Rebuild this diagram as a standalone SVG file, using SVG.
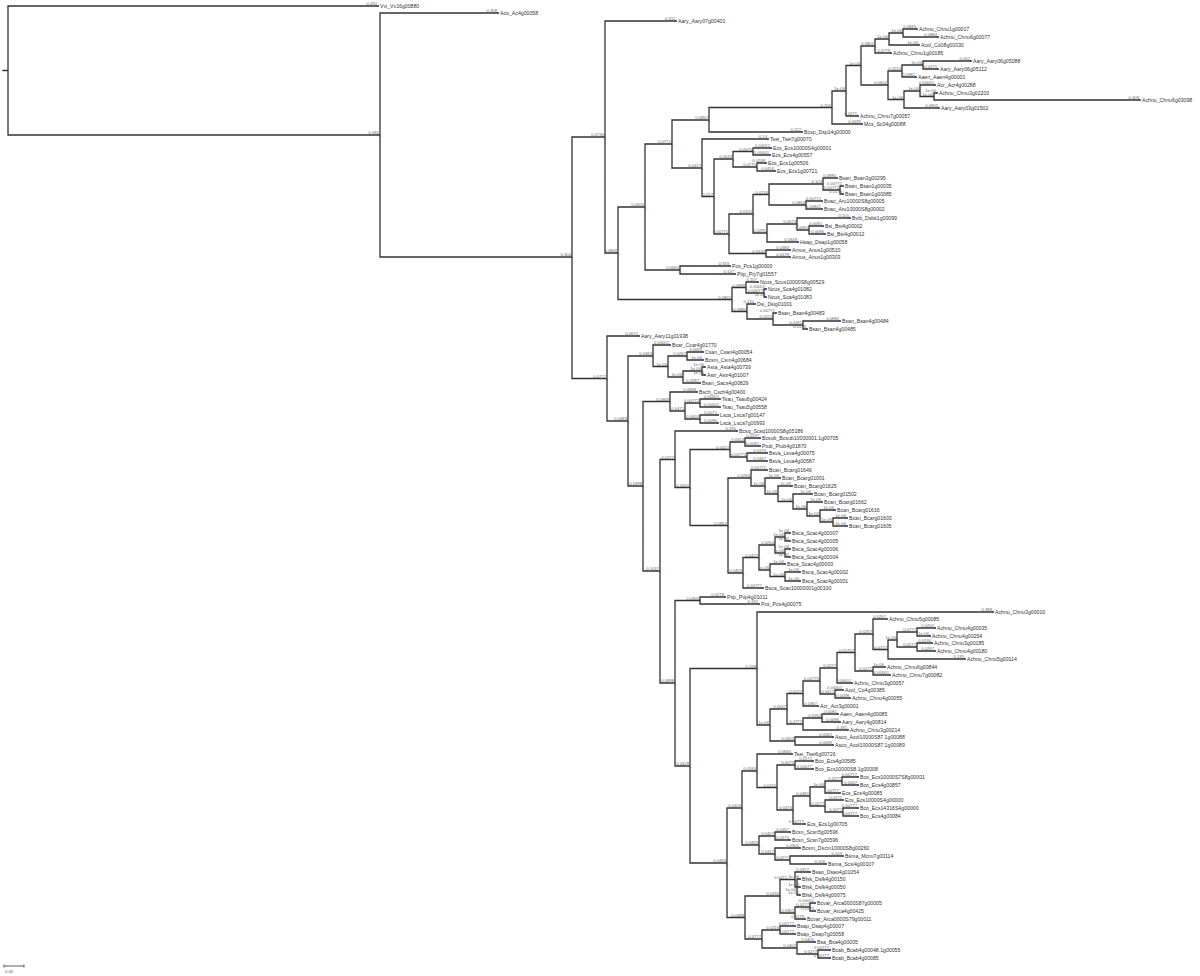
<svg xmlns="http://www.w3.org/2000/svg" width="1200" height="976" viewBox="0 0 1200 976">
<style>
.br{fill:none;stroke:#333;stroke-width:1.3;stroke-linecap:square}
.nd{fill:none;stroke:#d43a2a;stroke-width:1.4;stroke-linecap:round}
.tp{fill:none;stroke:#2a36c8;stroke-width:1.6;stroke-linecap:square}
.lf{font-family:"Liberation Sans",Arial,sans-serif;font-size:5.2px;fill:#333}
.bl{font-family:"Liberation Sans",Arial,sans-serif;font-size:4.2px;fill:#666;text-anchor:end}
</style>
<rect width="1200" height="976" fill="#fff"/>
<g id="connectors">
<path class="br" d="M3 70.5H8 M8 6V135 M8 6H378 M8 135H380
M380 13V257 M380 13H498 M380 257H572
M572 137V378.5 M572 137H605 M572 378.5H607
M605 21V253 M605 21H676 M605 253H618
M618 207V299.5 M618 207H645 M618 299.5H732
M645 144V270 M645 144H672 M645 270H680
M680 266V274 M680 266H730 M680 274H735
M672 120V168 M672 120H709 M672 168H702
M709 107.5V132 M709 107.5H832 M709 132H802
M832 91V124 M832 91H846 M832 124H862
M846 65.5V116 M846 65.5H861 M846 116H858
M861 46V85 M861 46H875 M861 85H888
M875 39V53 M875 39H889 M875 53H891
M889 33V45 M889 33H903 M889 45H919
M903 29V37 M903 29H917 M903 37H938
M888 71V99.5 M888 71H902 M888 99.5H904
M902 65V77 M902 65H923 M902 77H916
M923 61V69 M923 61H971 M923 69H938
M904 91V108 M904 91H920 M904 108H939
M920 85V96.5 M920 85H935 M920 96.5H934
M934 93V100 M934 93H937 M934 100H1140
M702 139V196.5 M702 139H768 M702 196.5H714
M714 159V234 M714 159H733 M714 234H729
M733 151.5V167 M733 151.5H753 M733 167H757
M753 148V155 M753 148H771 M753 155H770
M757 163V171 M757 163H766 M757 171H775
M729 214V253.5 M729 214H753 M729 253.5H766
M753 194.5V233 M753 194.5H769 M753 233H767
M769 184V205 M769 184H823 M769 205H806
M823 178V190 M823 178H837 M823 190H840
M840 186V194 M840 186H843 M840 194H843
M806 201V209 M806 201H822 M806 209H822
M767 224V242 M767 224H797 M767 242H798
M797 218V230 M797 218H850 M797 230H809
M809 226V234 M809 226H823 M809 234H825
M766 250V257 M766 250H790 M766 257H790
M732 287.5V311.5 M732 287.5H746 M732 311.5H747
M746 282V293 M746 282H758 M746 293H764
M764 289V297 M764 289H766 M764 297H766
M747 304V319 M747 304H755 M747 319H773
M773 313V325 M773 313H776 M773 325H803
M803 321V329 M803 321H840 M803 329H807
M607 336V421 M607 336H639 M607 421H628
M628 356V486 M628 356H653 M628 486H643
M653 345V366.5 M653 345H670 M653 366.5H668
M668 356V377 M668 356H687 M668 377H683
M687 352V360 M687 352H703 M687 360H703
M683 371V383 M683 371H702 M683 383H700
M702 367V375 M702 367H705 M702 375H705
M643 401.5V571 M643 401.5H670 M643 571H660
M670 392V411 M670 392H697 M670 411H685
M685 403V419 M685 403H700 M685 419H700
M700 399V407 M700 399H720 M700 407H720
M700 415V423 M700 415H718 M700 423H718
M660 459.5V683 M660 459.5H675 M660 683H675
M675 431V487.5 M675 431H737 M675 487.5H690
M690 449.5V525.5 M690 449.5H730 M690 525.5H728
M730 442V457 M730 442H745 M730 457H747
M745 438V446 M745 438H760 M745 446H760
M747 453V461 M747 453H767 M747 461H767
M728 478V573 M728 478H751 M728 573H743
M751 470V486 M751 470H767 M751 486H765
M765 478V494 M765 478H780 M765 494H778
M778 486V501.5 M778 486H792 M778 501.5H793
M793 494V509 M793 494H812 M793 509H807
M807 502V516 M807 502H822 M807 516H820
M820 510V522 M820 510H835 M820 522H833
M833 518V526 M833 518H847 M833 526H847
M743 557.5V588 M743 557.5H759 M743 588H763
M759 545V570 M759 545H775 M759 570H770
M775 537V553 M775 537H785 M775 553H785
M785 533V541 M785 533H790 M785 541H790
M785 549V557 M785 549H790 M785 557H790
M770 564V576.5 M770 564H785 M770 576.5H785
M785 572V581 M785 572H800 M785 581H800
M675 600.5V766 M675 600.5H700 M675 766H690
M700 597V604 M700 597H725 M700 604H759
M690 668.5V863 M690 668.5H757 M690 863H727
M757 612V725 M757 612H993 M757 725H770
M770 709V741 M770 709H787 M770 741H795
M795 737V745 M795 737H833 M795 745H833
M787 693.5V724 M787 693.5H803 M787 724H803
M803 681V706 M803 681H820 M803 706H818
M820 668V694 M820 668H837 M820 694H835
M835 690V698 M835 690H843 M835 698H850
M837 652.5V683 M837 652.5H855 M837 683H852
M855 634V671 M855 634H873 M855 671H873
M873 619V649.5 M873 619H887 M873 649.5H888
M888 640V659 M888 640H897 M888 659H965
M897 632V647 M897 632H917 M897 647H917
M917 628V636 M917 628H935 M917 636H930
M917 643V651 M917 643H932 M917 651H935
M873 667V675 M873 667H885 M873 675H890
M803 718V730 M803 718H822 M803 730H848
M822 714V722 M822 714H838 M822 722H840
M727 808V917.5 M727 808H742 M727 917.5H745
M742 771V845 M742 771H757 M742 845H759
M757 754V787.5 M757 754H792 M757 787.5H777
M777 765V810 M777 765H795 M777 810H793
M795 761V769 M795 761H813 M795 769H813
M793 796V824 M793 796H810 M793 824H805
M810 787V806 M810 787H825 M810 806H825
M825 781V793 M825 781H842 M825 793H840
M842 777V785 M842 777H858 M842 785H858
M825 800V812 M825 800H843 M825 812H843
M843 808V816 M843 808H858 M843 816H858
M759 836V854 M759 836H775 M759 854H775
M775 832V840 M775 832H790 M775 840H790
M775 848V860 M775 848H800 M775 860H790
M790 856V864 M790 856H843 M790 864H826
M745 896V939 M745 896H780 M745 939H762
M780 879.5V913 M780 879.5H795 M780 913H795
M795 872V887 M795 872H810 M795 887H797
M797 879V895 M797 879H800 M797 887H800 M797 895H800
M795 907V919 M795 907H810 M795 919H805
M810 903V911 M810 903H815 M810 911H815
M762 930V948 M762 930H780 M762 948H797
M780 926V934 M780 926H795 M780 934H795
M797 942V954 M797 942H815 M797 954H818
M818 950V958 M818 950H830 M818 958H830"/>
<path class="nd" d="M380.5 136.5h.01M572.5 258.5h.01M605.5 138.5h.01M618.5 254.5h.01M645.5 208.5h.01M680.5 271.5h.01M672.5 145.5h.01M709.5 121.5h.01M832.5 109h.01M846.5 92.5h.01M861.5 67h.01M875.5 47.5h.01M889.5 40.5h.01M903.5 34.5h.01M888.5 86.5h.01M902.5 72.5h.01M923.5 66.5h.01M904.5 101h.01M920.5 92.5h.01M934.5 98h.01M702.5 169.5h.01M714.5 198h.01M733.5 160.5h.01M753.5 153h.01M757.5 168.5h.01M729.5 235.5h.01M753.5 215.5h.01M769.5 196h.01M823.5 185.5h.01M840.5 191.5h.01M806.5 206.5h.01M767.5 234.5h.01M797.5 225.5h.01M809.5 231.5h.01M766.5 255h.01M732.5 301h.01M746.5 289h.01M764.5 294.5h.01M747.5 313h.01M773.5 320.5h.01M803.5 326.5h.01M607.5 380h.01M628.5 422.5h.01M653.5 357.5h.01M668.5 368h.01M687.5 357.5h.01M683.5 378.5h.01M702.5 372.5h.01M643.5 487.5h.01M670.5 403h.01M685.5 412.5h.01M700.5 404.5h.01M700.5 420.5h.01M660.5 572.5h.01M675.5 461h.01M690.5 489h.01M730.5 451h.01M745.5 443.5h.01M747.5 458.5h.01M728.5 527h.01M751.5 479.5h.01M765.5 487.5h.01M778.5 495.5h.01M793.5 503h.01M807.5 510.5h.01M820.5 517.5h.01M833.5 523.5h.01M743.5 574.5h.01M759.5 559h.01M775.5 546.5h.01M785.5 538.5h.01M785.5 554.5h.01M770.5 571.5h.01M785.5 578h.01M675.5 684.5h.01M700.5 602h.01M690.5 767.5h.01M757.5 670h.01M770.5 726.5h.01M795.5 742.5h.01M787.5 710.5h.01M803.5 695h.01M820.5 682.5h.01M835.5 695.5h.01M837.5 669.5h.01M855.5 654h.01M873.5 635.5h.01M888.5 651h.01M897.5 641.5h.01M917.5 633.5h.01M917.5 648.5h.01M873.5 672.5h.01M803.5 725.5h.01M822.5 719.5h.01M727.5 864.5h.01M742.5 809.5h.01M757.5 772.5h.01M777.5 789h.01M795.5 766.5h.01M793.5 811.5h.01M810.5 797.5h.01M825.5 788.5h.01M842.5 782.5h.01M825.5 807.5h.01M843.5 813.5h.01M759.5 846.5h.01M775.5 837.5h.01M775.5 855.5h.01M790.5 861.5h.01M745.5 919h.01M780.5 897.5h.01M795.5 881h.01M797.5 888.5h.01M795.5 914.5h.01M810.5 908.5h.01M762.5 940.5h.01M780.5 931.5h.01M797.5 949.5h.01M818.5 955.5h.01"/>
<path class="tp" d="M378 6h.01M498 13h.01M676 21h.01M917 29h.01M938 37h.01M919 45h.01M891 53h.01M971 61h.01M938 69h.01M916 77h.01M935 85h.01M937 93h.01M1140 100h.01M939 108h.01M858 116h.01M862 124h.01M802 132h.01M768 139h.01M771 148h.01M770 155h.01M766 163h.01M775 171h.01M837 178h.01M843 186h.01M843 194h.01M822 201h.01M822 209h.01M850 218h.01M823 226h.01M825 234h.01M798 242h.01M790 250h.01M790 257h.01M730 266h.01M735 274h.01M758 282h.01M766 289h.01M766 297h.01M755 304h.01M776 313h.01M840 321h.01M807 329h.01M639 336h.01M670 345h.01M703 352h.01M703 360h.01M705 367h.01M705 375h.01M700 383h.01M697 392h.01M720 399h.01M720 407h.01M718 415h.01M718 423h.01M737 431h.01M760 438h.01M760 446h.01M767 453h.01M767 461h.01M767 470h.01M780 478h.01M792 486h.01M812 494h.01M822 502h.01M835 510h.01M847 518h.01M847 526h.01M790 533h.01M790 541h.01M790 549h.01M790 557h.01M785 564h.01M800 572h.01M800 581h.01M763 588h.01M725 597h.01M759 604h.01M993 612h.01M887 619h.01M935 628h.01M930 636h.01M932 643h.01M935 651h.01M965 659h.01M885 667h.01M890 675h.01M852 683h.01M843 690h.01M850 698h.01M818 706h.01M838 714h.01M840 722h.01M848 730h.01M833 737h.01M833 745h.01M792 754h.01M813 761h.01M813 769h.01M858 777h.01M858 785h.01M840 793h.01M843 800h.01M858 808h.01M858 816h.01M805 824h.01M790 832h.01M790 840h.01M800 848h.01M843 856h.01M826 864h.01M810 872h.01M800 879h.01M800 887h.01M800 895h.01M815 903h.01M815 911h.01M805 919h.01M795 926h.01M795 934h.01M815 942h.01M830 950h.01M830 958h.01"/>
</g>
<g id="internal-labels">
<text class="bl" x="379" y="134">0.580</text><text class="bl" x="571" y="256">0.304</text><text class="bl" x="604" y="136">0.0736</text><text class="bl" x="617" y="252">0.0866</text><text class="bl" x="644" y="206">0.0600</text><text class="bl" x="679" y="269">0.0665</text><text class="bl" x="671" y="143">0.0771</text><text class="bl" x="708" y="119">0.0867</text><text class="bl" x="831" y="106.5">0.205</text><text class="bl" x="845" y="90">1e-06</text><text class="bl" x="860" y="64.5">1e-06</text><text class="bl" x="874" y="45">0.0801</text><text class="bl" x="888" y="38">1e-06</text><text class="bl" x="902" y="32">1e-06</text><text class="bl" x="887" y="84">0.0602</text><text class="bl" x="901" y="70">0.0214</text><text class="bl" x="922" y="64">1e-06</text><text class="bl" x="903" y="98.5">1e-06</text><text class="bl" x="919" y="90">1e-06</text><text class="bl" x="933" y="95.5">1e-06</text><text class="bl" x="701" y="167">0.0417</text><text class="bl" x="713" y="195.5">0.217</text><text class="bl" x="732" y="158">0.0543</text><text class="bl" x="752" y="150.5">0.0675</text><text class="bl" x="756" y="166">0.0775</text><text class="bl" x="728" y="233">0.00771</text><text class="bl" x="752" y="213">0.0311</text><text class="bl" x="768" y="193.5">0.0234</text><text class="bl" x="822" y="183">0.103</text><text class="bl" x="839" y="189">0.00771</text><text class="bl" x="805" y="204">0.0864</text><text class="bl" x="766" y="232">0.0291</text><text class="bl" x="796" y="223">0.0673</text><text class="bl" x="808" y="229">0.0081</text><text class="bl" x="765" y="252.5">0.0540</text><text class="bl" x="731" y="298.5">0.0801</text><text class="bl" x="745" y="286.5">0.0898</text><text class="bl" x="763" y="292">0.00077</text><text class="bl" x="746" y="310.5">0.0880</text><text class="bl" x="772" y="318">0.0311</text><text class="bl" x="802" y="324">0.0181</text>
<text class="bl" x="606" y="377.5">0.0777</text><text class="bl" x="627" y="420">0.0483</text><text class="bl" x="652" y="355">0.0363</text><text class="bl" x="667" y="365.5">1e-06</text><text class="bl" x="686" y="355">0.0267</text><text class="bl" x="682" y="376">1e-06</text><text class="bl" x="701" y="370">1e-06</text><text class="bl" x="642" y="485">0.0398</text><text class="bl" x="669" y="400.5">0.0369</text><text class="bl" x="684" y="410">0.0471</text><text class="bl" x="699" y="402">0.00771</text><text class="bl" x="699" y="418">0.0403</text><text class="bl" x="659" y="570">0.1037</text><text class="bl" x="674" y="458.5">0.0277</text><text class="bl" x="689" y="486.5">0.0551</text><text class="bl" x="729" y="448.5">0.0427</text><text class="bl" x="744" y="441">0.0314</text><text class="bl" x="746" y="456">0.00773</text><text class="bl" x="727" y="524.5">0.0852</text><text class="bl" x="750" y="477">0.0266</text><text class="bl" x="764" y="485">1e-06</text><text class="bl" x="777" y="493">1e-06</text><text class="bl" x="792" y="500.5">1e-06</text><text class="bl" x="806" y="508">1e-06</text><text class="bl" x="819" y="515">1e-06</text><text class="bl" x="832" y="521">1e-06</text><text class="bl" x="742" y="572">0.0405</text><text class="bl" x="758" y="556.5">0.0427</text><text class="bl" x="774" y="544">0.0264</text><text class="bl" x="784" y="536">1e-06</text><text class="bl" x="784" y="552">1e-06</text><text class="bl" x="769" y="569">1e-06</text><text class="bl" x="784" y="575.5">1e-06</text><text class="bl" x="674" y="682">0.0898</text><text class="bl" x="699" y="599.5">0.0305</text><text class="bl" x="689" y="765">0.0428</text><text class="bl" x="756" y="667.5">0.158</text><text class="bl" x="769" y="724">1e-06</text><text class="bl" x="794" y="740">0.0403</text><text class="bl" x="786" y="708">0.0547</text><text class="bl" x="802" y="692.5">0.0277</text><text class="bl" x="819" y="680">0.00775</text><text class="bl" x="834" y="693">0.0417</text><text class="bl" x="836" y="667">0.0227</text><text class="bl" x="854" y="651.5">0.00757</text><text class="bl" x="872" y="633">0.0257</text><text class="bl" x="887" y="648.5">0.0777</text><text class="bl" x="896" y="639">1e-06</text><text class="bl" x="916" y="631">0.0777</text><text class="bl" x="916" y="646">0.0277</text><text class="bl" x="872" y="670">0.0277</text><text class="bl" x="802" y="723">0.0777</text><text class="bl" x="821" y="717">0.0264</text><text class="bl" x="726" y="862">0.0494</text><text class="bl" x="741" y="807">0.0426</text><text class="bl" x="756" y="770">0.0340</text><text class="bl" x="776" y="786.5">0.0411</text><text class="bl" x="794" y="764">0.0075</text><text class="bl" x="792" y="809">0.0475</text><text class="bl" x="809" y="795">0.0481</text><text class="bl" x="824" y="786">1e-06</text><text class="bl" x="841" y="780">0.0277</text><text class="bl" x="824" y="805">0.0277</text><text class="bl" x="842" y="811">0.0277</text><text class="bl" x="758" y="844">0.0405</text><text class="bl" x="774" y="835">0.0407</text><text class="bl" x="774" y="853">0.0417</text><text class="bl" x="789" y="859">0.0277</text><text class="bl" x="744" y="916.5">0.0488</text><text class="bl" x="779" y="895">0.0436</text><text class="bl" x="787" y="878.5">0.0471</text><text class="bl" x="796" y="890.6">1e-06</text><text class="bl" x="794" y="912">0.0361</text><text class="bl" x="809" y="906">0.0277</text><text class="bl" x="761" y="938">0.0777</text><text class="bl" x="779" y="929">0.0216</text><text class="bl" x="796" y="947">0.0402</text><text class="bl" x="817" y="953">0.0277</text>
</g>
<g id="leaves">
<g id="leaf1"><text class="bl" x="377" y="5">0.492</text><text class="lf" x="380" y="7.8">Vvi_Vv16g00880</text></g>
<g id="leaf2"><text class="bl" x="497" y="12">0.308</text><text class="lf" x="500" y="14.8">Aco_Ac4g00058</text></g>
<g id="leaf3"><text class="bl" x="675" y="20">0.311</text><text class="lf" x="678" y="22.8">Aary_Aary07g00401</text></g>
<g id="leaf4"><text class="bl" x="916" y="28">0.0845</text><text class="lf" x="919" y="30.8">Achnu_Chnu1g00017</text></g>
<g id="leaf5"><text class="bl" x="937" y="36">0.0884</text><text class="lf" x="940" y="38.8">Achnu_Chnu6g00077</text></g>
<g id="leaf6"><text class="bl" x="918" y="44">1e-06</text><text class="lf" x="921" y="46.8">Acol_Co08g00330</text></g>
<g id="leaf7"><text class="bl" x="890" y="52">0.0779</text><text class="lf" x="893" y="54.8">Achnu_Chnu1g00185</text></g>
<g id="leaf8"><text class="bl" x="970" y="60">0.162</text><text class="lf" x="973" y="62.8">Aary_Aary06g05088</text></g>
<g id="leaf9"><text class="bl" x="937" y="68">0.0175</text><text class="lf" x="940" y="70.8">Aary_Aary06g05112</text></g>
<g id="leaf10"><text class="bl" x="915" y="76">0.0381</text><text class="lf" x="918" y="78.8">Aaen_Aaen4g00001</text></g>
<g id="leaf11"><text class="bl" x="934" y="84">0.00041</text><text class="lf" x="937" y="86.8">Acr_Acr4g00288</text></g>
<g id="leaf12"><text class="bl" x="936" y="92">1e-06</text><text class="lf" x="939" y="94.8">Achnu_Chnu3g02203</text></g>
<g id="leaf13"><text class="bl" x="1139" y="99">0.408</text><text class="lf" x="1142" y="101.8">Achnu_Chnu6g03098</text></g>
<g id="leaf14"><text class="bl" x="938" y="107">0.0905</text><text class="lf" x="941" y="109.8">Aary_Aary03g01502</text></g>
<g id="leaf15"><text class="bl" x="857" y="115">0.0271</text><text class="lf" x="860" y="117.8">Achnu_Chnu7g00057</text></g>
<g id="leaf16"><text class="bl" x="861" y="123">0.0595</text><text class="lf" x="864" y="125.8">Mcs_Sc04g00088</text></g>
<g id="leaf17"><text class="bl" x="801" y="131">0.222</text><text class="lf" x="804" y="133.8">Bcsp_Dsp14g00000</text></g>
<g id="leaf18"><text class="bl" x="767" y="138">0.13</text><text class="lf" x="770" y="140.8">Tsei_Tsei7g00070</text></g>
<g id="leaf19"><text class="bl" x="770" y="147">0.00012</text><text class="lf" x="773" y="149.8">Ecs_Ecs10000S4g00001</text></g>
<g id="leaf20"><text class="bl" x="769" y="154">0.00041</text><text class="lf" x="772" y="156.8">Ecs_Ecs4g00557</text></g>
<g id="leaf21"><text class="bl" x="765" y="162">0.0248</text><text class="lf" x="768" y="164.8">Ecs_Ecs1g00506</text></g>
<g id="leaf22"><text class="bl" x="774" y="170">0.0416</text><text class="lf" x="777" y="172.8">Ecs_Ecs1g00721</text></g>
<g id="leaf23"><text class="bl" x="836" y="177">0.0880</text><text class="lf" x="839" y="179.8">Bsan_Bsan3g00295</text></g>
<g id="leaf24"><text class="bl" x="842" y="185">0.00771</text><text class="lf" x="845" y="187.8">Bsan_Bsan1g00035</text></g>
<g id="leaf25"><text class="bl" x="842" y="193">0.0175</text><text class="lf" x="845" y="195.8">Bsan_Bsan1g00085</text></g>
<g id="leaf26"><text class="bl" x="821" y="200">0.00771</text><text class="lf" x="824" y="202.8">Bvac_Aru10000S8g00005</text></g>
<g id="leaf27"><text class="bl" x="821" y="208">0.00841</text><text class="lf" x="824" y="210.8">Bvac_Aru10000S8g00002</text></g>
<g id="leaf28"><text class="bl" x="849" y="217">0.101</text><text class="lf" x="852" y="219.8">Bvib_Dsbk1g00099</text></g>
<g id="leaf29"><text class="bl" x="822" y="225">0.0081</text><text class="lf" x="825" y="227.8">Bsi_Bsi4g00002</text></g>
<g id="leaf30"><text class="bl" x="824" y="233">0.0096</text><text class="lf" x="827" y="235.8">Bsi_Bsi4g00012</text></g>
<g id="leaf31"><text class="bl" x="797" y="241">0.0549</text><text class="lf" x="800" y="243.8">Hsap_Dsap1g00058</text></g>
<g id="leaf32"><text class="bl" x="789" y="249">0.0383</text><text class="lf" x="792" y="251.8">Arnus_Anus1g00510</text></g>
<g id="leaf33"><text class="bl" x="789" y="256">0.0578</text><text class="lf" x="792" y="258.8">Arnus_Anus1g00303</text></g>
<g id="leaf34"><text class="bl" x="729" y="265">0.333</text><text class="lf" x="732" y="267.8">Pcs_Pcs1g00000</text></g>
<g id="leaf35"><text class="bl" x="734" y="273">0.147</text><text class="lf" x="737" y="275.8">Ptip_Pty7g01557</text></g>
<g id="leaf36"><text class="bl" x="757" y="281">0.107</text><text class="lf" x="760" y="283.8">Ncus_Scus10000S8g00529</text></g>
<g id="leaf37"><text class="bl" x="765" y="288">0.00001</text><text class="lf" x="768" y="290.8">Ncus_Sca4g01082</text></g>
<g id="leaf38"><text class="bl" x="765" y="296">1e-06</text><text class="lf" x="768" y="298.8">Ncus_Sca4g01083</text></g>
<g id="leaf39"><text class="bl" x="754" y="303">0.130</text><text class="lf" x="757" y="305.8">Dsi_Dsig01001</text></g>
<g id="leaf40"><text class="bl" x="775" y="312">0.00771</text><text class="lf" x="778" y="314.8">Bsan_Bsan4g00483</text></g>
<g id="leaf41"><text class="bl" x="839" y="320">0.0890</text><text class="lf" x="842" y="322.8">Bsan_Bsan4g00484</text></g>
<g id="leaf42"><text class="bl" x="806" y="328">0.0175</text><text class="lf" x="809" y="330.8">Bsan_Bsan4g00485</text></g>
<g id="leaf43"><text class="bl" x="638" y="335">0.0672</text><text class="lf" x="641" y="337.8">Aary_Aary11g01938</text></g>
<g id="leaf44"><text class="bl" x="669" y="344">0.00001</text><text class="lf" x="672" y="346.8">Bcar_Ccar4g01770</text></g>
<g id="leaf45"><text class="bl" x="702" y="351">0.0693</text><text class="lf" x="705" y="353.8">Csan_Csan4g00054</text></g>
<g id="leaf46"><text class="bl" x="702" y="359">1e-06</text><text class="lf" x="705" y="361.8">Bcsm_Csm4g00684</text></g>
<g id="leaf47"><text class="bl" x="704" y="366">1e-06</text><text class="lf" x="707" y="368.8">Asta_Asta4g00739</text></g>
<g id="leaf48"><text class="bl" x="704" y="374">1e-06</text><text class="lf" x="707" y="376.8">Astr_Astr4g01007</text></g>
<g id="leaf49"><text class="bl" x="699" y="382">0.0287</text><text class="lf" x="702" y="384.8">Bsan_Sacs4g00829</text></g>
<g id="leaf50"><text class="bl" x="696" y="391">0.0848</text><text class="lf" x="699" y="393.8">Bsch_Csch4g00400</text></g>
<g id="leaf51"><text class="bl" x="719" y="398">0.00001</text><text class="lf" x="722" y="400.8">Tsau_Tsau6g00424</text></g>
<g id="leaf52"><text class="bl" x="719" y="406">0.00002</text><text class="lf" x="722" y="408.8">Tsau_Tsau5g00558</text></g>
<g id="leaf53"><text class="bl" x="717" y="414">0.0071</text><text class="lf" x="720" y="416.8">Lsca_Lsca7g00147</text></g>
<g id="leaf54"><text class="bl" x="717" y="422">0.0096</text><text class="lf" x="720" y="424.8">Lsca_Lsca7g00993</text></g>
<g id="leaf55"><text class="bl" x="736" y="430">0.335</text><text class="lf" x="739" y="432.8">Bcsq_Scsq10000S8g05186</text></g>
<g id="leaf56"><text class="bl" x="759" y="437">0.0197</text><text class="lf" x="762" y="439.8">Bcsub_Bcsub10000001.1g00705</text></g>
<g id="leaf57"><text class="bl" x="759" y="445">0.0281</text><text class="lf" x="762" y="447.8">Ptub_Ptub4g01870</text></g>
<g id="leaf58"><text class="bl" x="766" y="452">0.0175</text><text class="lf" x="769" y="454.8">Bsva_Lsva4g00075</text></g>
<g id="leaf59"><text class="bl" x="766" y="460">0.0347</text><text class="lf" x="769" y="462.8">Bsva_Lsva4g00587</text></g>
<g id="leaf60"><text class="bl" x="766" y="469">0.00772</text><text class="lf" x="769" y="471.8">Bcan_Bcarg01649</text></g>
<g id="leaf61"><text class="bl" x="779" y="477">1e-06</text><text class="lf" x="782" y="479.8">Bcan_Bcarg01001</text></g>
<g id="leaf62"><text class="bl" x="791" y="485">1e-06</text><text class="lf" x="794" y="487.8">Bcan_Bcarg01625</text></g>
<g id="leaf63"><text class="bl" x="811" y="493">1e-06</text><text class="lf" x="814" y="495.8">Bcan_Bcarg01502</text></g>
<g id="leaf64"><text class="bl" x="821" y="501">1e-06</text><text class="lf" x="824" y="503.8">Bcan_Bcarg01662</text></g>
<g id="leaf65"><text class="bl" x="834" y="509">1e-06</text><text class="lf" x="837" y="511.8">Bcan_Bcarg01616</text></g>
<g id="leaf66"><text class="bl" x="846" y="517">1e-06</text><text class="lf" x="849" y="519.8">Bcan_Bcarg01603</text></g>
<g id="leaf67"><text class="bl" x="846" y="525">1e-06</text><text class="lf" x="849" y="527.8">Bcan_Bcarg01605</text></g>
<g id="leaf68"><text class="bl" x="789" y="532">1e-06</text><text class="lf" x="792" y="534.8">Bsca_Scac4g00007</text></g>
<g id="leaf69"><text class="bl" x="789" y="540">1e-06</text><text class="lf" x="792" y="542.8">Bsca_Scac4g00005</text></g>
<g id="leaf70"><text class="bl" x="789" y="548">1e-06</text><text class="lf" x="792" y="550.8">Bsca_Scac4g00006</text></g>
<g id="leaf71"><text class="bl" x="789" y="556">1e-06</text><text class="lf" x="792" y="558.8">Bsca_Scac4g00004</text></g>
<g id="leaf72"><text class="bl" x="784" y="563">1e-06</text><text class="lf" x="787" y="565.8">Bsca_Scac4g00003</text></g>
<g id="leaf73"><text class="bl" x="799" y="571">1e-06</text><text class="lf" x="802" y="573.8">Bsca_Scac4g00002</text></g>
<g id="leaf74"><text class="bl" x="799" y="580">1e-06</text><text class="lf" x="802" y="582.8">Bsca_Scac4g00001</text></g>
<g id="leaf75"><text class="bl" x="762" y="587">0.00777</text><text class="lf" x="765" y="589.8">Bsca_Scac10000001g00100</text></g>
<g id="leaf76"><text class="bl" x="724" y="596">0.0278</text><text class="lf" x="727" y="598.8">Ptip_Ptip4g01011</text></g>
<g id="leaf77"><text class="bl" x="758" y="603">0.332</text><text class="lf" x="761" y="605.8">Pcs_Pcs4g00075</text></g>
<g id="leaf78"><text class="bl" x="992" y="611">0.388</text><text class="lf" x="995" y="613.8">Achnu_Chnu3g00010</text></g>
<g id="leaf79"><text class="bl" x="886" y="618">0.0267</text><text class="lf" x="889" y="620.8">Achnu_Chnu5g00085</text></g>
<g id="leaf80"><text class="bl" x="934" y="627">0.0202</text><text class="lf" x="937" y="629.8">Achnu_Chnu4g00035</text></g>
<g id="leaf81"><text class="bl" x="929" y="635">1e-06</text><text class="lf" x="932" y="637.8">Achnu_Chnu4g00254</text></g>
<g id="leaf82"><text class="bl" x="931" y="642">0.0130</text><text class="lf" x="934" y="644.8">Achnu_Chnu3g00185</text></g>
<g id="leaf83"><text class="bl" x="934" y="650">0.0267</text><text class="lf" x="937" y="652.8">Achnu_Chnu4g00180</text></g>
<g id="leaf84"><text class="bl" x="964" y="658">0.135</text><text class="lf" x="967" y="660.8">Achnu_Chnu5g00114</text></g>
<g id="leaf85"><text class="bl" x="884" y="666">1e-06</text><text class="lf" x="887" y="668.8">Achnu_Chnu6g00844</text></g>
<g id="leaf86"><text class="bl" x="889" y="674">0.00001</text><text class="lf" x="892" y="676.8">Achnu_Chnu7g00082</text></g>
<g id="leaf87"><text class="bl" x="851" y="682">0.00001</text><text class="lf" x="854" y="684.8">Achnu_Chnu3g00057</text></g>
<g id="leaf88"><text class="bl" x="842" y="689">0.00001</text><text class="lf" x="845" y="691.8">Acol_Co4g00385</text></g>
<g id="leaf89"><text class="bl" x="849" y="697">0.0098</text><text class="lf" x="852" y="699.8">Achnu_Chnu4g00055</text></g>
<g id="leaf90"><text class="bl" x="817" y="705">0.0367</text><text class="lf" x="820" y="707.8">Acr_Acr3g00001</text></g>
<g id="leaf91"><text class="bl" x="837" y="713">0.0081</text><text class="lf" x="840" y="715.8">Aaen_Aaen4g00085</text></g>
<g id="leaf92"><text class="bl" x="839" y="721">0.0096</text><text class="lf" x="842" y="723.8">Aary_Aary4g00814</text></g>
<g id="leaf93"><text class="bl" x="847" y="729">0.181</text><text class="lf" x="850" y="731.8">Achnu_Chnu3g00214</text></g>
<g id="leaf94"><text class="bl" x="832" y="736">0.0062</text><text class="lf" x="835" y="738.8">Asco_Acol10000S87.1g00088</text></g>
<g id="leaf95"><text class="bl" x="832" y="744">0.0089</text><text class="lf" x="835" y="746.8">Asco_Acol10000S87.1g00089</text></g>
<g id="leaf96"><text class="bl" x="791" y="753">0.0666</text><text class="lf" x="794" y="755.8">Tsei_Tsei6g00726</text></g>
<g id="leaf97"><text class="bl" x="812" y="760">0.0171</text><text class="lf" x="815" y="762.8">Bco_Ecs4g00585</text></g>
<g id="leaf98"><text class="bl" x="812" y="768">0.00077</text><text class="lf" x="815" y="770.8">Bco_Ecs10000S8.1g00008</text></g>
<g id="leaf99"><text class="bl" x="857" y="776">0.00777</text><text class="lf" x="860" y="778.8">Bco_Ecs10000S7S8g00001</text></g>
<g id="leaf100"><text class="bl" x="857" y="784">0.0047</text><text class="lf" x="860" y="786.8">Bco_Ecs4g00857</text></g>
<g id="leaf101"><text class="bl" x="839" y="792">0.00777</text><text class="lf" x="842" y="794.8">Ecs_Ecs4g00085</text></g>
<g id="leaf102"><text class="bl" x="842" y="799">0.0172</text><text class="lf" x="845" y="801.8">Ecs_Ecs10000S4g00000</text></g>
<g id="leaf103"><text class="bl" x="857" y="807">0.00777</text><text class="lf" x="860" y="809.8">Bco_Ecs14316S4g00000</text></g>
<g id="leaf104"><text class="bl" x="857" y="815">0.00777</text><text class="lf" x="860" y="817.8">Bco_Ecs4g00084</text></g>
<g id="leaf105"><text class="bl" x="804" y="823">0.00777</text><text class="lf" x="807" y="825.8">Ecs_Ecs1g00705</text></g>
<g id="leaf106"><text class="bl" x="789" y="831">0.0467</text><text class="lf" x="792" y="833.8">Bcsn_Scsn5g00596</text></g>
<g id="leaf107"><text class="bl" x="789" y="839">0.0175</text><text class="lf" x="792" y="841.8">Bcsn_Scsn7g00596</text></g>
<g id="leaf108"><text class="bl" x="799" y="847">0.0505</text><text class="lf" x="802" y="849.8">Bcsm_Dscm10000S8g00260</text></g>
<g id="leaf109"><text class="bl" x="842" y="855">0.109</text><text class="lf" x="845" y="857.8">Bsma_Mcmi7g00114</text></g>
<g id="leaf110"><text class="bl" x="825" y="863">0.106</text><text class="lf" x="828" y="865.8">Bsma_Scsi4g00107</text></g>
<g id="leaf111"><text class="bl" x="809" y="871">0.0372</text><text class="lf" x="812" y="873.8">Bsao_Dsao4g01054</text></g>
<g id="leaf112"><text class="bl" x="799" y="878">1e-06</text><text class="lf" x="802" y="880.8">Bfsk_Dsfk4g00150</text></g>
<g id="leaf113"><text class="bl" x="799" y="886">1e-06</text><text class="lf" x="802" y="888.8">Bfsk_Dsfk4g00050</text></g>
<g id="leaf114"><text class="bl" x="799" y="894">1e-06</text><text class="lf" x="802" y="896.8">Bfsk_Dsfk4g00075</text></g>
<g id="leaf115"><text class="bl" x="814" y="902">0.00041</text><text class="lf" x="817" y="904.8">Bcvar_Arca0000S87g00005</text></g>
<g id="leaf116"><text class="bl" x="814" y="910">0.0175</text><text class="lf" x="817" y="912.8">Bcvar_Arca4g00425</text></g>
<g id="leaf117"><text class="bl" x="804" y="918">0.0178</text><text class="lf" x="807" y="920.8">Bcvar_Arca0000S79g00011</text></g>
<g id="leaf118"><text class="bl" x="794" y="925">0.00777</text><text class="lf" x="797" y="927.8">Bsap_Dsap4g00007</text></g>
<g id="leaf119"><text class="bl" x="794" y="933">0.00777</text><text class="lf" x="797" y="935.8">Bsap_Dsap7g00058</text></g>
<g id="leaf120"><text class="bl" x="814" y="941">0.0406</text><text class="lf" x="817" y="943.8">Bsa_Bsa4g00005</text></g>
<g id="leaf121"><text class="bl" x="829" y="949">0.00777</text><text class="lf" x="832" y="951.8">Bcab_Bcab4g00048.1g00055</text></g>
<g id="leaf122"><text class="bl" x="829" y="957">0.00777</text><text class="lf" x="832" y="959.8">Bcab_Bcab4g00085</text></g>
</g>
<g id="scale-bar">
<path d="M4 966H24 M4 964.5V967.5 M24 964.5V967.5" fill="none" stroke="#333" stroke-width="0.8"/>
<text x="5" y="972.5" font-family="Liberation Sans, Arial, sans-serif" font-size="4.2" fill="#555">0.05</text>
</g>
</svg>
